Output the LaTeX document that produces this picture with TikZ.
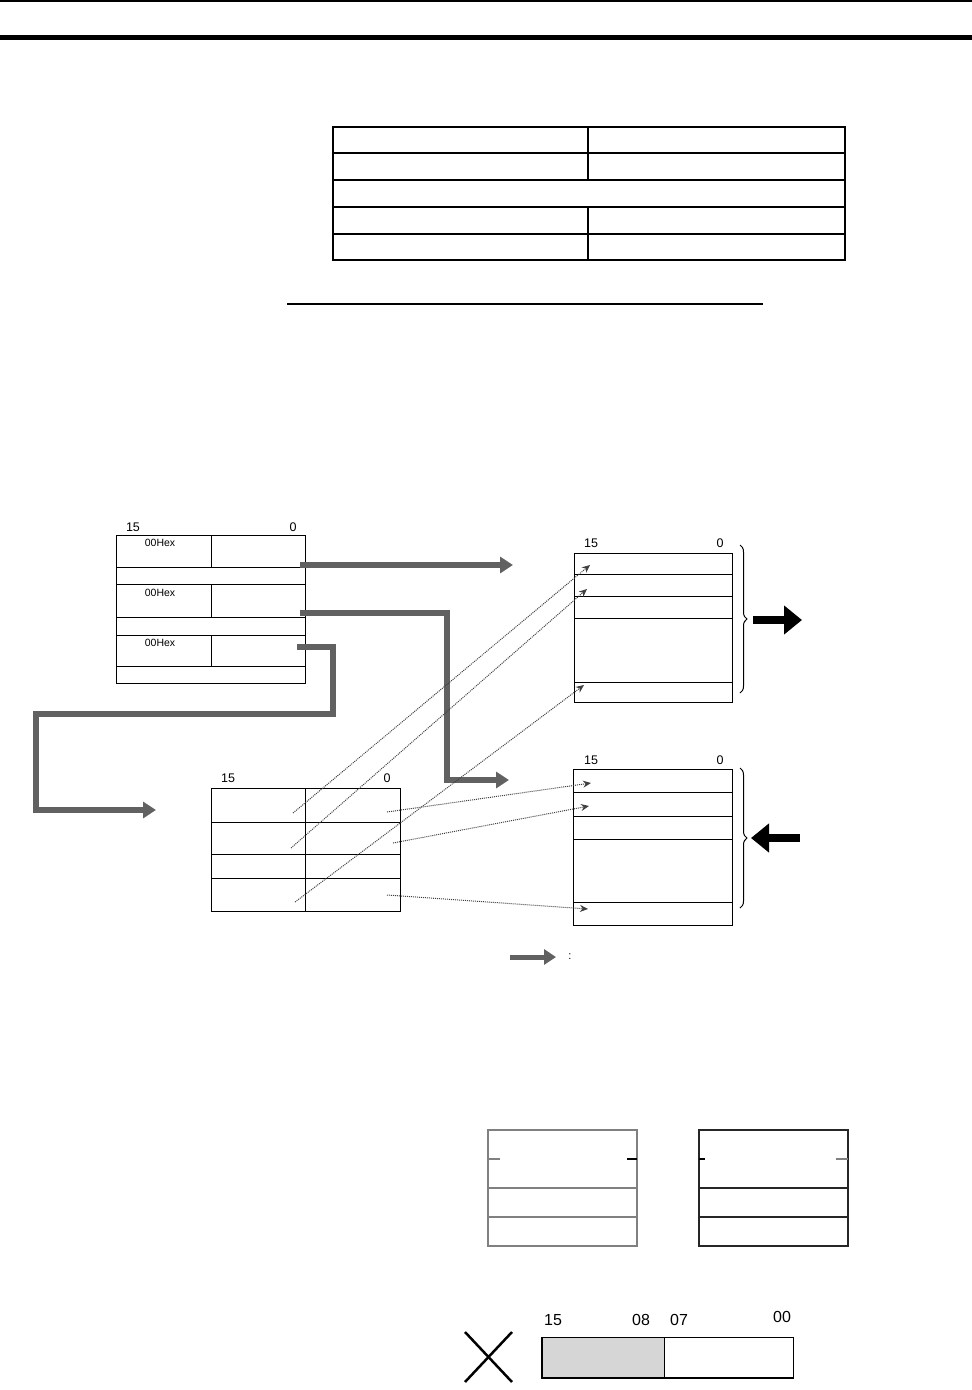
\documentclass[tikz,border=0pt]{standalone}
\usepackage{fontspec}
\setmainfont{Liberation Sans}
\usetikzlibrary{arrows.meta,decorations.pathreplacing}
\begin{document}
\begin{tikzpicture}[x=1pt,y=-1pt,
  cell/.style={draw, line width=1pt, inner sep=0pt, outer sep=0pt, anchor=north west},
  tcell/.style={draw, line width=1.3pt, inner sep=0pt, outer sep=0pt, anchor=north west},
  bitlbl/.style={font=\fontsize{12.5}{13}\selectfont, inner sep=0pt},
  hexlbl/.style={font=\fontsize{10.5}{11}\selectfont, inner sep=0pt},
  flow/.style={draw=black!62, line width=6.5pt, line join=miter, -{Triangle[length=13pt,width=16pt]}},
  dots/.style={draw=black!75, line width=1pt, densely dotted, -{Stealth[length=8pt,width=7pt]}},
  bigarrow/.style={draw=black, line width=8pt, -{Triangle[length=18pt,width=28pt]}},
  brc/.style={draw, line width=1pt, decorate, decoration={brace, amplitude=7pt}},
]
\useasboundingbox (0,0) rectangle (972,1390);
% header rules
\draw[line width=1.5pt] (0,1) -- (972,1);
\draw[line width=5pt] (0,37.5) -- (972,37.5);

% table
\node[tcell, minimum width=255pt, minimum height=26pt] (ta1) at (333,127) {};
\node[tcell, minimum width=257pt, minimum height=26pt] (ta2) at (588,127) {};
\node[tcell, minimum width=255pt, minimum height=27pt] (tb1) at (333,153) {};
\node[tcell, minimum width=257pt, minimum height=27pt] (tb2) at (588,153) {};
\node[tcell, minimum width=512pt, minimum height=27pt] (tc) at (333,180) {};
\node[tcell, minimum width=255pt, minimum height=27pt] (td1) at (333,207) {};
\node[tcell, minimum width=257pt, minimum height=27pt] (td2) at (588,207) {};
\node[tcell, minimum width=255pt, minimum height=26pt] (te1) at (333,234) {};
\node[tcell, minimum width=257pt, minimum height=26pt] (te2) at (588,234) {};
\coordinate (ul1) at (287,304);
\coordinate (ul2) at (763,304);
\draw[line width=1.3pt] (ul1) -- (ul2);

% box 1 (upper left)
\node[bitlbl] (b1l15) at (133,527) {15};
\node[bitlbl] (b1l0) at (293,527) {0};
\node[cell, minimum width=95pt, minimum height=32pt] (b1a) at (116,535) {};
\node[cell, minimum width=94pt, minimum height=32pt] (b1b) at (211,535) {};
\node[cell, minimum width=189pt, minimum height=17pt] (b1c) at (116,567) {};
\node[cell, minimum width=95pt, minimum height=33pt] (b1d) at (116,584) {};
\node[cell, minimum width=94pt, minimum height=33pt] (b1e) at (211,584) {};
\node[cell, minimum width=189pt, minimum height=18pt] (b1f) at (116,617) {};
\node[cell, minimum width=95pt, minimum height=31pt] (b1g) at (116,635) {};
\node[cell, minimum width=94pt, minimum height=31pt] (b1h) at (211,635) {};
\node[cell, minimum width=189pt, minimum height=17pt] (b1i) at (116,666) {};
\node[hexlbl] (hx1) at (160,543) {00Hex};
\node[hexlbl] (hx2) at (160,593) {00Hex};
\node[hexlbl] (hx3) at (160,643) {00Hex};

% box 2 (lower left)
\node[bitlbl] (b2l15) at (228,778) {15};
\node[bitlbl] (b2l0) at (387,778) {0};
\node[cell, minimum width=94pt, minimum height=34pt] (b2a) at (211,788) {};
\node[cell, minimum width=95pt, minimum height=34pt] (b2b) at (305,788) {};
\node[cell, minimum width=94pt, minimum height=32pt] (b2c) at (211,822) {};
\node[cell, minimum width=95pt, minimum height=32pt] (b2d) at (305,822) {};
\node[cell, minimum width=94pt, minimum height=24pt] (b2e) at (211,854) {};
\node[cell, minimum width=95pt, minimum height=24pt] (b2f) at (305,854) {};
\node[cell, minimum width=94pt, minimum height=33pt] (b2g) at (211,878) {};
\node[cell, minimum width=95pt, minimum height=33pt] (b2h) at (305,878) {};

% box 3 (upper right)
\node[bitlbl] (b3l15) at (591,543) {15};
\node[bitlbl] (b3l0) at (720,543) {0};
\node[cell, minimum width=158pt, minimum height=21pt] (b3a) at (574,553) {};
\node[cell, minimum width=158pt, minimum height=22pt] (b3b) at (574,574) {};
\node[cell, minimum width=158pt, minimum height=22pt] (b3c) at (574,596) {};
\node[cell, minimum width=158pt, minimum height=64pt] (b3d) at (574,618) {};
\node[cell, minimum width=158pt, minimum height=20pt] (b3e) at (574,682) {};
\draw[brc] (740,545) -- (740,693);
\coordinate (ba1s) at (753,620);
\coordinate (ba1e) at (802,620);
\draw[bigarrow] (ba1s) -- (ba1e);

% box 4 (lower right)
\node[bitlbl] (b4l15) at (591,760) {15};
\node[bitlbl] (b4l0) at (720,760) {0};
\node[cell, minimum width=159pt, minimum height=23pt] (b4a) at (573,769) {};
\node[cell, minimum width=159pt, minimum height=24pt] (b4b) at (573,792) {};
\node[cell, minimum width=159pt, minimum height=23pt] (b4c) at (573,816) {};
\node[cell, minimum width=159pt, minimum height=63pt] (b4d) at (573,839) {};
\node[cell, minimum width=159pt, minimum height=23pt] (b4e) at (573,902) {};
\draw[brc] (740,768) -- (740,908);
\coordinate (ba2s) at (800,838);
\coordinate (ba2e) at (751,838);
\draw[bigarrow] (ba2s) -- (ba2e);

% thick grey flow arrows
\coordinate (f1s) at (300,565);
\coordinate (f1e) at (513,565);
\draw[flow] (f1s) -- (f1e);
\coordinate (f2s) at (300,613);
\coordinate (f2e) at (509,780);
\draw[flow] (f2s) -- (447,613) -- (447,780) -- (f2e);
\coordinate (f3s) at (297,647);
\coordinate (f3e) at (156,810);
\draw[flow] (f3s) -- (333,647) -- (333,714) -- (36,714) -- (36,810) -- (f3e);

% dotted data lines
\coordinate (s1) at (293,813);
\coordinate (t1) at (590,565);
\coordinate (s2) at (291,848);
\coordinate (t2) at (587,589);
\coordinate (s3) at (295,902);
\coordinate (t3) at (584,685);
\coordinate (s4) at (387,812);
\coordinate (t4) at (591,783);
\coordinate (s5) at (393,843);
\coordinate (t5) at (589,806);
\coordinate (s6) at (387,895);
\coordinate (t6) at (588,909);
\draw[dots] (s1) -- (t1);
\draw[dots] (s2) -- (t2);
\draw[dots] (s3) -- (t3);
\draw[dots] (s4) -- (t4);
\draw[dots] (s5) -- (t5);
\draw[dots] (s6) -- (t6);

% legend
\coordinate (lg1) at (510,957);
\coordinate (lg2) at (556,957);
\draw[flow, line width=5pt, -{Triangle[length=12pt,width=15pt]}] (lg1) -- (lg2);
\node[inner sep=0pt, font=\fontsize{11}{11}\selectfont] (lgc) at (570,957) {:};

% bottom boxes
\node[cell, draw=black!50, line width=1.3pt, minimum width=149pt, minimum height=58pt] (pa1) at (488,1130) {};
\node[cell, draw=black!50, line width=1.3pt, minimum width=149pt, minimum height=29pt] (pa2) at (488,1188) {};
\node[cell, draw=black!50, line width=1.3pt, minimum width=149pt, minimum height=29pt] (pa3) at (488,1217) {};
\draw[line width=1.3pt, black!50] (488,1159) -- (500,1159);
\draw[line width=1.3pt] (627,1159) -- (637,1159);
\node[cell, draw=black!85, line width=1.2pt, minimum width=149pt, minimum height=58pt] (pb1) at (699,1130) {};
\node[cell, draw=black!85, line width=1.2pt, minimum width=149pt, minimum height=29pt] (pb2) at (699,1188) {};
\node[cell, draw=black!85, line width=1.2pt, minimum width=149pt, minimum height=29pt] (pb3) at (699,1217) {};
\draw[line width=1.3pt] (699,1159) -- (705,1159);
\draw[line width=1.3pt, black!50] (836,1159) -- (848,1159);

% bottom word diagram
\coordinate (xa) at (465,1332);
\coordinate (xb) at (512,1382);
\coordinate (xc) at (512,1332);
\coordinate (xd) at (465,1382);
\draw[line width=2.5pt] (xa) -- (xb);
\draw[line width=2.5pt] (xc) -- (xd);
\node[cell, fill=black!16, line width=1pt, minimum width=122pt, minimum height=41pt] (wh) at (542,1337) {};
\node[cell, line width=1pt, minimum width=129pt, minimum height=41pt] (wl) at (664,1337) {};
\draw[line width=2.5pt] (wh.north west) -- (wh.south west) -- (wl.south east);
\node[inner sep=0pt, font=\fontsize{16}{17}\selectfont] (n15) at (553,1320) {15};
\node[inner sep=0pt, font=\fontsize{16}{17}\selectfont] (n08) at (641,1320) {08};
\node[inner sep=0pt, font=\fontsize{16}{17}\selectfont] (n07) at (679,1320) {07};
\node[inner sep=0pt, font=\fontsize{16}{17}\selectfont] (n00) at (782,1317) {00};
\end{tikzpicture}
\end{document}
